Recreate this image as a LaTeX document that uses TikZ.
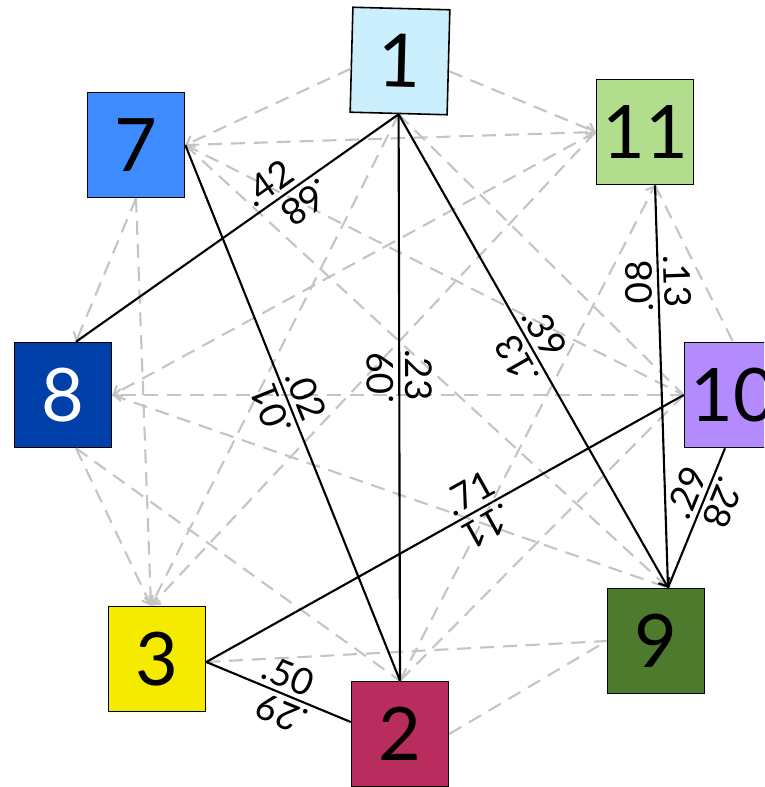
\documentclass[tikz,border=0pt]{standalone}
\usepackage{fontspec}
\setmainfont{Lato}
\usetikzlibrary{arrows.meta,calc}
\definecolor{fillone}{HTML}{CCEFFD}
\definecolor{filltwo}{HTML}{B82D5E}
\definecolor{fillthree}{HTML}{F5EB00}
\definecolor{fillseven}{HTML}{3D8BFF}
\definecolor{filleight}{HTML}{0040A8}
\definecolor{fillnine}{HTML}{4D7A2C}
\definecolor{fillten}{HTML}{B38BFF}
\definecolor{filleleven}{HTML}{B2DD8C}
\definecolor{edgegray}{HTML}{C4C4C4}

\begin{document}
\begin{tikzpicture}[x=0.02cm,y=-0.02cm,
  vtx/.style={draw=black, line width=0.9pt, minimum width=1.94cm,
              minimum height=2.1cm, inner sep=0pt,
              font=\fontsize{42}{42}\selectfont},
  link/.style={draw=black, line width=1.2pt},
  weak/.style={draw=edgegray, line width=1.2pt, dash pattern=on 8pt off 5pt},
  tip/.style={-{Straight Barb[length=4pt,width=7pt]}},
  wt/.style={sloped, allow upside down, above, inner sep=3pt,
             font=\fontsize{21}{21}\selectfont}
]
  \clip (0,0) rectangle (764,787);

  % vertices
  \node[vtx, fill=fillone, rotate=-1.5] (n1) at (400,61) {1};
  \node[vtx, fill=fillseven]  (n7)  at (136,145) {7};
  \node[vtx, fill=filleleven] (n11) at (645,132) {11};
  \node[vtx, fill=filleight, text=white] (n8) at (63,395) {8};
  \node[vtx, fill=fillten]    (n10) at (733,395) {10};
  \node[vtx, fill=fillthree]  (n3)  at (157,659) {3};
  \node[vtx, fill=fillnine]   (n9)  at (656,641) {9};
  \node[vtx, fill=filltwo]    (n2)  at (400,734) {2};

  % anchor points used by the connectors
  \coordinate (p8n) at ($(n8.north)+(13,0)$);
  \coordinate (p8s) at ($(n8.south)+(13,0)$);
  \coordinate (p9n) at ($(n9.north)+(12,0)$);
  \coordinate (p11s) at ($(n11.south)+(10,0)$);
  \coordinate (p10s) at ($(n10.south)+(-8,0)$);
  \coordinate (p3e) at ($(n3.east)+(0,3)$);
  \coordinate (p3n) at ($(n3.north)+(-6,0)$);
  \coordinate (p2w) at ($(n2.west)+(0,-12)$);
  \coordinate (p1w) at ($(n1.west)+(0,9)$);
  \coordinate (p1e) at ($(n1.east)+(0,9)$);

  % unused pairs
  \draw[weak, tip] (p1w) -- (n7.east);
  \draw[weak, tip] (p1e) -- (n11.west);
  \draw[weak] (n1.south) -- (n10.west);
  \draw[weak, tip] (n1.south) -- (p3n);
  \draw[weak, tip] (n7.east) -- (n11.west);
  \draw[weak, tip] (n7.south) -- (p8n);
  \draw[weak, tip] (n7.south) -- (p3n);
  \draw[weak] (n7.east) -- (n10.west);
  \draw[weak] (n7.east) -- (p9n);
  \draw[weak, tip] (n11.west) -- (n8.east);
  \draw[weak, tip] (n11.west) -- (p3n);
  \draw[weak, tip] (n2.north) -- (p11s);
  \draw[weak] (p11s) -- (n10.north);
  \draw[weak, tip] (n10.west) -- (n8.east);
  \draw[weak] (n8.east) -- (p9n);
  \draw[weak, tip] (p8s) -- (p3n);
  \draw[weak] (p8s) -- (n2.north);
  \draw[weak] (n10.west) -- (n2.north);
  \draw[weak] (p3e) -- (n9.west);
  \draw[weak] (n2.east) -- (n9.west);

  % chosen pairs
  \draw[link] (n1.south) -- (p8n);
  \draw[link] (n1.south) -- (n2.north);
  \draw[link, tip] (n1.south) -- (p9n);
  \draw[link] (p11s) -- (p9n);
  \draw[link] (p10s) -- (p9n);
  \draw[link] (n10.west) -- (p3e);
  \draw[link] (p3e) -- (p2w);
  \draw[link] (n7.east) -- (n2.north);

  % weights, one for each direction
  \path (p8n) -- node[wt, pos=0.63] {.42} (n1.south);
  \path (n1.south) -- node[wt, pos=0.32] {.68} (p8n);
  \path (n1.south) -- node[wt, pos=0.46] {.23} (n2.north);
  \path (n2.north) -- node[wt, pos=0.535] {.09} (n1.south);
  \path (n1.south) -- node[wt, pos=0.48] {.39} (p9n);
  \path (p9n) -- node[wt, pos=0.5] {.13} (n1.south);
  \path (p11s) -- node[wt, pos=0.24] {.13} (p9n);
  \path (p9n) -- node[wt, pos=0.75] {.08} (p11s);
  \path (p10s) -- node[wt, pos=0.34] {.28} (p9n);
  \path (p9n) -- node[wt, pos=0.63] {.29} (p10s);
  \path (p3e) -- node[wt, pos=0.57] {.71} (n10.west);
  \path (n10.west) -- node[wt, pos=0.43] {.11} (p3e);
  \path (p3e) -- node[wt, pos=0.52] {.50} (p2w);
  \path (p2w) -- node[wt, pos=0.43] {.29} (p3e);
  \path (n7.east) -- node[wt, pos=0.48] {.02} (n2.north);
  \path (n2.north) -- node[wt, pos=0.52] {.01} (n7.east);
\end{tikzpicture}
\end{document}
